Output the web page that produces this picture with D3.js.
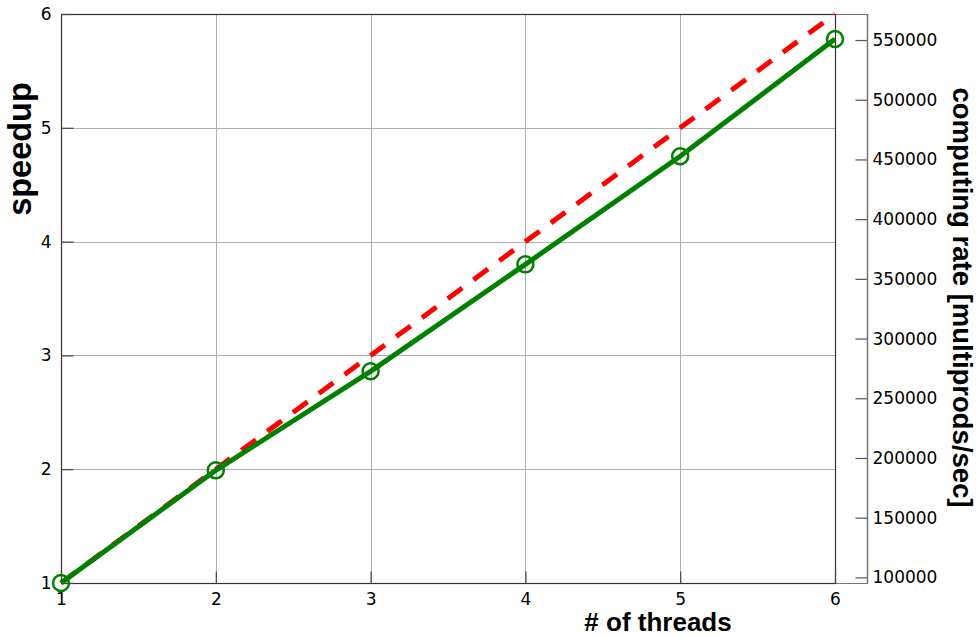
<!DOCTYPE html>
<html>
<head>
<meta charset="utf-8">
<script src="https://cdn.jsdelivr.net/npm/d3@7"></script>
<style>
  body { margin: 0; background: #fff; }
  .tick text { font-family: "DejaVu Sans", sans-serif; font-size: 17px; fill: #000; }
  .title { font-family: "Liberation Sans", Arial, sans-serif; font-weight: bold; fill: #000; }
</style>
</head>
<body>
<div id="chart"></div>
<script>
// data
const threads = [1, 2, 3, 4, 5, 6];
const speedup = [1.00, 1.99, 2.86, 3.80, 4.75, 5.78];
const idealSpeedup = [1, 2, 3, 4, 5, 6];
const speedupTicks = [1, 2, 3, 4, 5, 6];
const rateTicks = [100000, 150000, 200000, 250000, 300000, 350000, 400000, 450000, 500000, 550000];
const rateDomain = [95300, 571800];

// layout
const plotLeft = 61, plotTop = 14, plotRight = 835, rateAxisX = 867, plotBottom = 583;

const svg = d3.select("#chart").append("svg")
  .attr("width", 979)
  .attr("height", 637);

// scales
const x = d3.scaleLinear().domain([1, 6]).range([plotLeft, plotRight]);
const y = d3.scaleLinear().domain([1, 6]).range([plotBottom, plotTop]);
const yRate = d3.scaleLinear().domain(rateDomain).range([plotBottom, plotTop]);

// grid
const grid = svg.append("g").attr("stroke", "#b0b0b0").attr("stroke-width", 1);
speedupTicks.slice(1, -1).forEach(t => {
  grid.append("line")
    .attr("x1", plotLeft).attr("x2", plotRight)
    .attr("y1", Math.round(y(t)) + 0.5).attr("y2", Math.round(y(t)) + 0.5);
});
threads.slice(1, -1).forEach(t => {
  grid.append("line")
    .attr("x1", Math.round(x(t)) + 0.5).attr("x2", Math.round(x(t)) + 0.5)
    .attr("y1", plotTop).attr("y2", plotBottom);
});

// frame extension to the right axis
svg.append("line").attr("x1", plotRight).attr("x2", rateAxisX)
  .attr("y1", plotTop + 0.5).attr("y2", plotTop + 0.5).attr("stroke", "#777");
svg.append("line").attr("x1", plotRight).attr("x2", rateAxisX)
  .attr("y1", plotBottom + 0.5).attr("y2", plotBottom + 0.5).attr("stroke", "#777");

// main frame
svg.append("rect")
  .attr("x", plotLeft + 0.5).attr("y", plotTop + 0.5)
  .attr("width", plotRight - plotLeft).attr("height", plotBottom - plotTop)
  .attr("fill", "none").attr("stroke", "#333").attr("stroke-width", 1.2);

// axes
const styleAxis = (g, color) => {
  g.select(".domain").remove();
  g.selectAll(".tick line").attr("stroke", color).attr("stroke-width", 1.2);
};

svg.append("g")
  .attr("transform", `translate(${plotLeft + 0.5},0)`)
  .call(d3.axisLeft(y).tickValues(speedupTicks).tickFormat(d3.format("d")).tickSize(-12).tickPadding(10))
  .call(g => styleAxis(g, "#444"));

svg.append("g")
  .attr("transform", `translate(0,${plotBottom + 0.5})`)
  .call(d3.axisBottom(x).tickValues(threads).tickFormat(d3.format("d")).tickSize(-12).tickPadding(9))
  .call(g => styleAxis(g, "#444"));

svg.append("g")
  .attr("transform", `translate(${rateAxisX + 0.5},0)`)
  .call(d3.axisRight(yRate).tickValues(rateTicks).tickFormat(d3.format("d")).tickSize(-12).tickPadding(5))
  .call(g => styleAxis(g, "#555"));

svg.append("line")
  .attr("x1", rateAxisX + 0.5).attr("x2", rateAxisX + 0.5)
  .attr("y1", plotTop).attr("y2", plotBottom + 1)
  .attr("stroke", "#777").attr("stroke-width", 1.5);

// ideal line
const ideal = d3.line()
  .x((d, i) => x(threads[i]))
  .y(d => y(d));

svg.append("path")
  .datum(idealSpeedup)
  .attr("d", ideal)
  .attr("fill", "none")
  .attr("stroke", "#ff0000")
  .attr("stroke-width", 5)
  .attr("stroke-dasharray", "18,14");

// measured speedup
const line = d3.line()
  .x((d, i) => x(threads[i]))
  .y(d => y(d));

svg.append("path")
  .datum(speedup)
  .attr("d", line)
  .attr("fill", "none")
  .attr("stroke", "#008000")
  .attr("stroke-width", 5);

svg.selectAll(".marker")
  .data(speedup)
  .enter()
  .append("circle")
  .attr("class", "marker")
  .attr("cx", (d, i) => x(threads[i]))
  .attr("cy", d => y(d))
  .attr("r", 8)
  .attr("fill", "none")
  .attr("stroke", "#008000")
  .attr("stroke-width", 2.5);

// titles
svg.append("text")
  .attr("class", "title")
  .attr("transform", "translate(31,149) rotate(-90)")
  .attr("text-anchor", "middle")
  .style("font-size", "32.5px")
  .text("speedup");

svg.append("text")
  .attr("class", "title")
  .attr("x", 658)
  .attr("y", 631)
  .attr("text-anchor", "middle")
  .style("font-size", "26px")
  .text("# of threads");

svg.append("text")
  .attr("class", "title")
  .attr("transform", "translate(953,297.5) rotate(90)")
  .attr("text-anchor", "middle")
  .style("font-size", "27.5px")
  .text("computing rate [multiprods/sec]");
</script>
</body>
</html>
